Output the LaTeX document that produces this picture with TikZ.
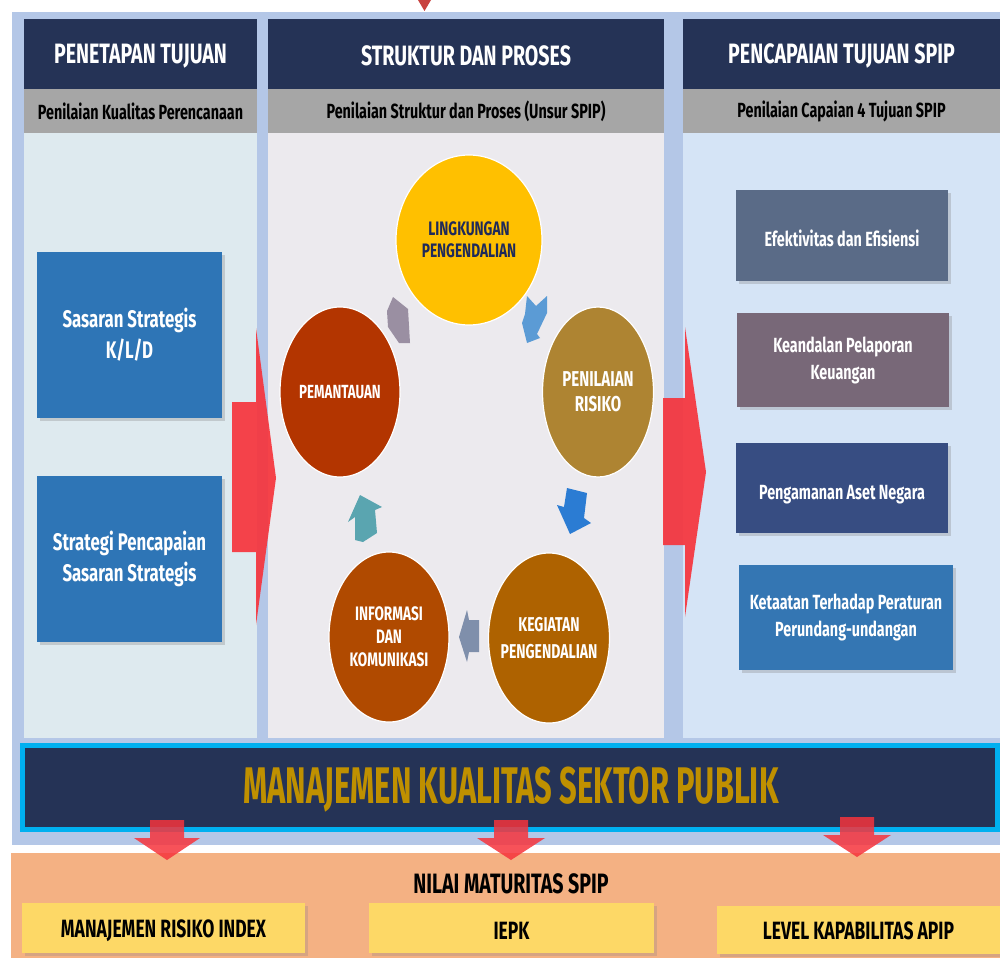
\documentclass[tikz,border=0pt]{standalone}
\usepackage{fontspec}
\setmainfont{Fira Sans}[FakeStretch=0.7]
\newfontfamily\bannerfont{Fira Sans}[FakeStretch=0.6]
\usetikzlibrary{shapes.geometric,shadows}

\definecolor{panelblue}{RGB}{180,199,231}
\definecolor{navy}{RGB}{37,51,86}
\definecolor{subgray}{RGB}{166,166,166}
\definecolor{leftbody}{RGB}{222,234,239}
\definecolor{midbody}{RGB}{236,234,238}
\definecolor{rightbody}{RGB}{213,228,246}
\definecolor{boxblue}{RGB}{46,117,182}
\definecolor{arrowred}{RGB}{246,52,60}
\definecolor{cyanframe}{RGB}{0,176,240}
\definecolor{gold}{RGB}{191,144,0}
\definecolor{peach}{RGB}{244,177,131}
\definecolor{butter}{RGB}{253,216,102}
\definecolor{topred}{RGB}{200,66,63}
\definecolor{cyellow}{RGB}{255,192,0}
\definecolor{crisk}{RGB}{174,132,50}
\definecolor{cmon}{RGB}{179,53,0}
\definecolor{cinfo}{RGB}{176,74,0}
\definecolor{ckeg}{RGB}{174,98,0}
\definecolor{textnavy}{RGB}{31,42,90}
\definecolor{aone}{RGB}{154,143,162}
\definecolor{atwo}{RGB}{91,155,213}
\definecolor{athree}{RGB}{43,124,211}
\definecolor{afour}{RGB}{127,143,171}
\definecolor{afive}{RGB}{90,165,176}
\definecolor{rone}{RGB}{90,107,135}
\definecolor{rtwo}{RGB}{120,104,120}
\definecolor{rthree}{RGB}{55,77,130}
\definecolor{rfour}{RGB}{52,118,179}

\begin{document}
\begin{tikzpicture}[x=1pt,y=-1pt,
  colhead/.style={fill=navy,text=white,inner sep=0,minimum height=70pt,text height=23pt,
    font=\bfseries\fontsize{28}{30}\selectfont},
  colsub/.style={fill=subgray,text=black,inner sep=0,minimum height=44pt,
    font=\bfseries\fontsize{20.5}{22}\selectfont},
  colbody/.style={inner sep=0,minimum height=605pt},
  goalbox/.style={fill=boxblue,text=white,align=center,inner sep=0,
    minimum width=185pt,minimum height=166pt,
    font=\bfseries\fontsize{24}{31}\selectfont,
    drop shadow={shadow xshift=3pt,shadow yshift=-3pt,opacity=0.3}},
  aimbox/.style={text=white,align=center,inner sep=0,
    font=\bfseries\fontsize{20.5}{27}\selectfont,
    drop shadow={shadow xshift=3pt,shadow yshift=-3pt,opacity=0.3}},
  unsur/.style={ellipse,draw=white,line width=1.2pt,inner sep=0,
    minimum height=170pt},
  unsurtext/.style={inner sep=0,align=center,text=white},
  bigarrow/.style={fill=arrowred,opacity=0.92},
  downarrow/.style={fill=arrowred,opacity=0.85},
  levelbox/.style={fill=butter,inner sep=0,minimum height=50pt,
    font=\bfseries\fontsize{25}{27}\selectfont,
    drop shadow={shadow xshift=3pt,shadow yshift=-3pt,opacity=0.25}}
]
\useasboundingbox (0,0) rectangle (1000,958);

% background panel and top marker
\fill[panelblue] (12,12) rectangle (1000,845);
\fill[topred] (418,0) -- (431,0) -- (424.5,11) -- cycle;

% column bodies
\node[colbody,fill=leftbody,minimum width=233pt] (bodyL) at (140.5,435.5) {};
\node[colbody,fill=midbody,minimum width=396pt] (bodyM) at (466,435.5) {};
\node[colbody,fill=rightbody,minimum width=317pt] (bodyR) at (841.5,435.5) {};

% column headers
\node[colhead,minimum width=233pt] (headL) at (140.5,54) {PENETAPAN TUJUAN};
\node[colhead,minimum width=396pt] (headM) at (466,54) {STRUKTUR DAN PROSES};
\node[colhead,minimum width=317pt] (headR) at (841.5,54) {PENCAPAIAN TUJUAN SPIP};
\node[colsub,minimum width=233pt] (subL) at (140.5,111) {Penilaian Kualitas Perencanaan};
\node[colsub,minimum width=396pt] (subM) at (466,111) {Penilaian Struktur dan Proses (Unsur SPIP)};
\node[colsub,minimum width=317pt] (subR) at (841.5,111) {Penilaian Capaian 4 Tujuan SPIP};

% goal setting boxes
\node[goalbox] (sasaran) at (129.5,335) {Sasaran Strategis\\K/L/D};
\node[goalbox] (strategi) at (129.5,559) {Strategi Pencapaian\\Sasaran Strategis};

% big arrows between columns
\fill[bigarrow] (232,402) -- (256,402) -- (256,328) -- (276,478) -- (256,625)
  -- (256,552) -- (232,552) -- cycle;
\fill[bigarrow] (663,398) -- (685,398) -- (685,327) -- (706,472) -- (685,617)
  -- (685,545) -- (663,545) -- cycle;

% SPIP elements cycle
\node[unsur,fill=cyellow,minimum width=146pt] (lingkungan) at (469,240) {};
\node[unsur,fill=crisk,minimum width=111pt] (risiko) at (598,392) {};
\node[unsur,fill=cmon,minimum width=120pt] (pemantauan) at (340,392) {};
\node[unsur,fill=cinfo,minimum width=120pt] (informasi) at (389,637) {};
\node[unsur,fill=ckeg,minimum width=121pt] (kegiatan) at (549,638) {};

\node[unsurtext,text=textnavy,font=\bfseries\fontsize{19.5}{22}\selectfont]
  (lingkunganlabel) at (lingkungan) {LINGKUNGAN\\PENGENDALIAN};
\node[unsurtext,font=\bfseries\fontsize{21.5}{25}\selectfont]
  (risikolabel) at (risiko) {PENILAIAN\\RISIKO};
\node[unsurtext,font=\bfseries\fontsize{19}{22}\selectfont]
  (pemantauanlabel) at (pemantauan) {PEMANTAUAN};
\node[unsurtext,font=\bfseries\fontsize{19.5}{23}\selectfont]
  (informasilabel) at (informasi) {INFORMASI\\DAN\\KOMUNIKASI};
\node[unsurtext,font=\bfseries\fontsize{20}{27}\selectfont]
  (kegiatanlabel) at (kegiatan) {KEGIATAN\\PENGENDALIAN};

% small cycle arrows
\fill[aone] (393,297) -- (408,309) -- (410,343) -- (399,343) -- (388,327) -- (387,311) -- cycle;
\fill[atwo] (527,296) -- (536,306) -- (547,296) -- (547,313) -- (537,334) -- (540,338)
  -- (527,343) -- (522,323) -- (525,314) -- cycle;
\fill[athree] (567,488) -- (587,493) -- (584,518) -- (591,523) -- (570,534) -- (557,505)
  -- (564,507) -- cycle;
\fill[afour] (459,637) -- (467,610) -- (469,620) -- (479,620) -- (479,652) -- (469,652)
  -- (467,662) -- cycle;
\fill[afive] (360,495) -- (382,507) -- (375,510) -- (377,533) -- (363,542) -- (355,540)
  -- (355,517) -- (348,522) -- cycle;

% objective boxes
\node[aimbox,fill=rone,minimum width=212pt,minimum height=91pt,text height=22pt]
  (efektif) at (842,235.5) {Efektivitas dan Efisiensi};
\node[aimbox,fill=rtwo,minimum width=212pt,minimum height=94pt] (keandalan) at (843,360)
  {Keandalan Pelaporan\\Keuangan};
\node[aimbox,fill=rthree,minimum width=212pt,minimum height=90pt,text height=27pt]
  (aset) at (842,488) {Pengamanan Aset Negara};
\node[aimbox,fill=rfour,minimum width=214pt,minimum height=105pt] (ketaatan) at (846,617.5)
  {Ketaatan Terhadap Peraturan\\Perundang-undangan};

% quality banner
\node[fill=navy,draw=cyanframe,line width=5pt,inner sep=0,minimum width=975pt,
  minimum height=84pt] (banner) at (510,787.5) {};
\node[text=gold,inner sep=0,font=\bannerfont\bfseries\fontsize{51.5}{54}\selectfont]
  (bannertext) at (511,790) {MANAJEMEN KUALITAS SEKTOR PUBLIK};

% maturity band
\fill[peach] (11,853) rectangle (1000,958);
\node[inner sep=0,font=\bfseries\fontsize{28}{30}\selectfont] (maturitas) at (511,884)
  {NILAI MATURITAS SPIP};
\node[levelbox,minimum width=283pt,text height=23pt] (risikoindex) at (163.5,928)
  {MANAJEMEN RISIKO INDEX};
\node[levelbox,minimum width=285pt,text height=23pt] (iepk) at (511.5,928) {IEPK};
\node[levelbox,minimum width=283pt,minimum height=48pt,text height=19pt] (kapabilitas)
  at (858.5,930) {LEVEL KAPABILITAS APIP};

% arrows from banner down to the maturity band
\fill[downarrow] (150,820) -- (184,820) -- (184,838) -- (200,838) -- (167,860)
  -- (134,838) -- (150,838) -- cycle;
\fill[downarrow] (494,820) -- (528,820) -- (528,838) -- (545,838) -- (511,860)
  -- (477,838) -- (494,838) -- cycle;
\fill[downarrow] (840,817) -- (874,817) -- (874,835) -- (891,835) -- (857,857)
  -- (823,835) -- (840,835) -- cycle;
\end{tikzpicture}
\end{document}
